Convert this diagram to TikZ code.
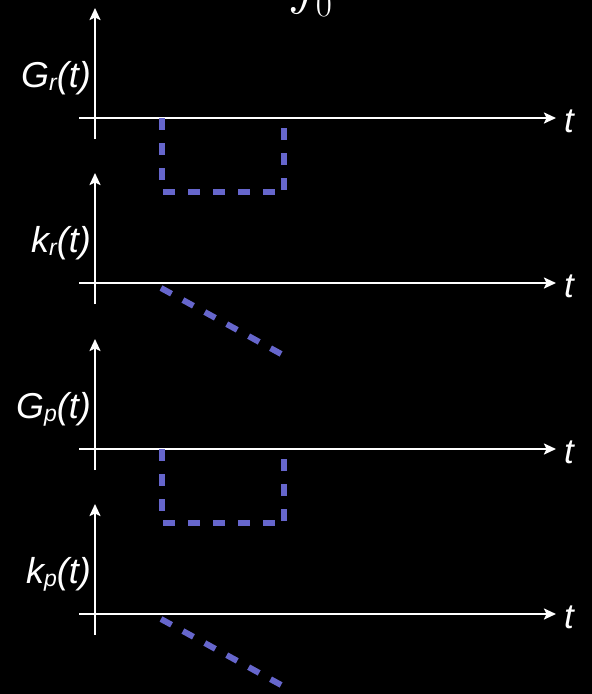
\RequirePackage{fix-cm}
\documentclass[tikz,border=0pt]{standalone}
\usepackage{exscale}
\usepackage{fontspec}
\setmainfont{Liberation Sans}
\DeclareFontShape{OMX}{cmex}{m}{n}{<-> cmex10}{}
\usetikzlibrary{arrows.meta}
\definecolor{dashblue}{RGB}{102,102,204}
\newcommand\funclab[2]{\fontsize{36}{42}\selectfont\itshape #1\raisebox{-3pt}{\fontsize{23}{27}\selectfont #2}(t)}
\tikzset{
  axisline/.style={draw=white, line width=2.2pt},
  axisarrow/.style={axisline, -{Stealth[length=12pt,width=11pt,inset=2.5pt]}},
  bluedash/.style={draw=dashblue, line width=6pt, dash pattern=on 12pt off 13pt},
  funcname/.style={text=white, inner sep=0pt, anchor=base east},
  tname/.style={text=white, inner sep=0pt, font=\fontsize{35}{42}\selectfont\itshape},
}
\begin{document}
\begin{tikzpicture}[x=1pt,y=-1pt]
\fill[black] (0,0) rectangle (592,694);
\useasboundingbox (0,0) rectangle (592,694);
% partial formula at the top
\node[text=white, inner sep=0pt, anchor=base west] (intg) at (288,-28)
  {\fontsize{50}{58}\selectfont$\displaystyle\int_0$};
% panels
\foreach \i/\Y/\F/\S in {1/118/G/r, 2/283/k/r, 3/449/G/p, 4/614/k/p}{
  \coordinate (vs\i) at (95,\Y+21);
  \coordinate (ve\i) at (95,\Y-110);
  \coordinate (hs\i) at (79,\Y);
  \coordinate (he\i) at (556,\Y);
  \draw[axisarrow] (vs\i) -- (ve\i);
  \draw[axisarrow] (hs\i) -- (he\i);
  \node[funcname] (lab\i) at (91,\Y-31) {\funclab{\F}{\S}};
  \node[tname] (t\i) at (569,\Y+3.5) {t};
}
% rectangular pulses
\foreach \i/\Y in {1/118, 3/449}{
  \coordinate (pa\i) at (162,\Y);
  \coordinate (pb\i) at (162,\Y+74);
  \coordinate (pc\i) at (163,\Y+74);
  \coordinate (pd\i) at (284,\Y+74);
  \coordinate (pe\i) at (284,\Y+72);
  \coordinate (pf\i) at (284,\Y);
  \draw[bluedash] (pa\i) -- (pb\i);
  \draw[bluedash] (pc\i) -- (pd\i);
  \draw[bluedash] (pe\i) -- (pf\i);
}
% ramps
\foreach \i/\Y in {2/283, 4/614}{
  \coordinate (ra\i) at (161,\Y+5);
  \coordinate (rb\i) at (283,\Y+72);
  \draw[bluedash] (ra\i) -- (rb\i);
}
\end{tikzpicture}
\end{document}
